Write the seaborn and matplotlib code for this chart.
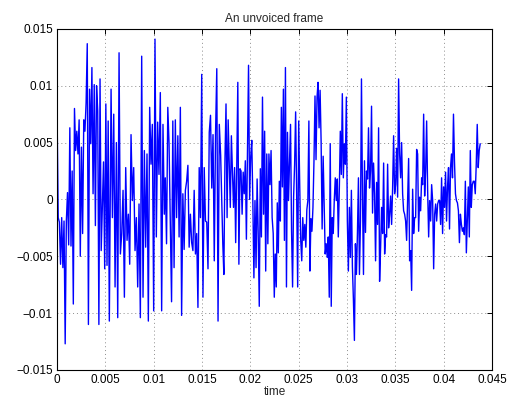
import matplotlib
matplotlib.use("Agg")
import matplotlib.pyplot as plt
import matplotlib.ticker as mticker
import seaborn as sns
import numpy as np

# signal values, in units of 1e-3, one list per stretch of time
seg1 = [7.7, -1.6, -2.0, -5.7, -1.6, -6.0, -1.9, -12.7, -1.9, 0.6, -4.0, 6.3, -4.1, 2.5, -9.2,
        8.0, 4.3, 6.0, 4.0, 7.0, -5.0, 4.6, -3.0, 7.0, 6.0, 8.5, 13.7, -11.0, 9.7, 4.9, 11.6,
        0.5, 10.1, -2.3, 10.0, 7.8, -11.0, 10.6, -4.5, -0.7, 3.3, -6.1, 8.4, -5.8, 6.9, -10.7]
seg2 = [9.7, -1.6, 7.5, -7.7, 5.0, -10.4, 12.9, -4.8, -3.0, 0.8, -8.6, 2.8, -3.6, -1.3, -5.7,
        5.7, -0.1, 2.8, -4.5, -1.6, -7.7, -0.4, -10.4, 12.6, -8.6, 4.3, -4.2, 4.0, -10.7, 8.1,
        3.1, 6.6, -9.8, 14.1, -3.3, 6.8, 2.2, 9.4, -9.8, 6.6, -1.3]
seg3 = [1.9, -3.9, 8.1, 4.9, -2.3, -9.0, 6.9, -6.0, 7.0, -1.6, 5.6, -3.3, 8.1, -10.2, 0.5,
        -4.4, 0.8, 1.6, 3.0, -4.2, -1.3, -3.8, -4.5, 0.8, -4.8, -3.0, -9.5, 2.8, -1.6, 11.0,
        -8.6, 2.8, -1.9, -2.0, -6.1, 5.9, 7.4, 1.0, 5.7, -5.4, 5.7, 11.5, -10.7, 6.6]
seg4 = [3.9, -0.1, -3.9, -6.6, 3.4, 8.4, -1.6, 7.0, 3.1, -0.7, 5.6, 2.5, -0.7, 2.8, -3.8,
        2.8, 10.3, -5.7, 2.7, 2.5, -1.3, 2.4, 0.5, 3.4, -3.5, 4.3, 11.8, 0.0, 3.7, 5.2, -0.1,
        -6.9, -0.1, -6.0, 1.8, -3.0, -9.4, 2.7, -3.3, 9.0, -1.3, 6.0, -6.3, 4.0, -3.9, 4.0,
        1.3, 4.3, -1.6, -3.0, -8.6]
seg5 = [-4.8, -7.7, -0.3, -4.7, 1.6, -1.9, 8.1, 1.1, 9.7, -3.6, 11.6, -7.7, 5.9, -0.1, 3.4,
        6.6, -2.8, -7.7, 0.2, 3.1, 7.7, 0.5, -7.7, 6.9, 1.3, -3.6, -5.4, -1.6, -3.6, -2.2,
        -4.2, -0.9, -0.1, 6.9, -6.3, -1.7, -2.8, -0.7, 3.4, 9.1, 3.5, 9.0, 10.3, 6.3, 9.6,
        5.1, -2.6, 3.8, -0.3, -4.8, -3.9, -5.1, -3.3, -8.6]
seg6 = [4.9, -9.4, -1.6, -3.0, -0.1, 1.9, -0.1, 1.8, -3.3, 0.8, 6.0, 2.2, 9.3, 1.9, 4.9,
        3.1, 9.0, -1.9, -6.3, -0.7, -5.1, 0.8, -5.9, -8.8, -12.4, -3.9, -6.6, -3.0, 1.9,
        -6.6, -1.9, 10.6, 0.4, -6.6, 3.4, -2.9, 2.5, 1.8, 6.3, 1.0, 2.5, 8.2, -1.2, 3.2, 0.5,
        -5.4, 1.5, -2.2, 6.3, -7.2, -4.2, -0.7, -3.0, 3.2, -4.8]
seg7 = [-3.1, -3.3, 3.1, -2.5, -1.3, 0.3, -2.2, 1.0, 5.6, 0.5, 1.3, 4.5, 0.2, 10.6, 4.0,
        1.9, 5.0, 0.5, -1.0, -1.3, -1.9, -3.6, -0.1, 3.6, -5.4, -4.5, -8.0, 0.9, -3.0, -1.6,
        -1.6, 4.4, 4.0, -2.8, 0.2, -1.0, 1.9, 1.3, 7.5, 0.3, 2.5, 6.9, 0.8, -3.3, -0.1, -1.9,
        1.3, -0.1, -6.1, -1.3, -0.4, -1.9, -0.4, -0.1]
seg8 = [-0.1, -2.2, 1.9, -3.0, 1.1, -0.7, 2.4, -1.9, 1.1, 2.8, -2.6, 2.8, 4.0, 1.9, 7.5,
        3.4, 0.5, -0.1, -0.3, -1.0, -3.8, -1.3, -2.2, -2.8, -2.5, -3.1, 1.6, -4.7, -1.9, 1.1,
        -3.3, 4.3, -0.7, 1.3, 1.6, 1.6, 0.5, 3.1, 6.6, 2.8, 4.3, 4.9]

segments = [seg1, seg2, seg3, seg4, seg5, seg6, seg7, seg8]
# start / end time (s) of each stretch
seg_start = [0.0, 0.00559, 0.0112, 0.01693, 0.02258, 0.02827, 0.0340, 0.03959]
seg_end = [0.00541, 0.0111, 0.01679, 0.02248, 0.02817, 0.0339, 0.03949, 0.04379]

time = np.concatenate([np.linspace(a, b, len(s)) for a, b, s in zip(seg_start, seg_end, segments)])
amp = np.concatenate([np.array(s) for s in segments]) * 1e-3

xticks = [0, 0.005, 0.01, 0.015, 0.02, 0.025, 0.03, 0.035, 0.04, 0.045]
yticks = [-0.015, -0.01, -0.005, 0, 0.005, 0.01, 0.015]

sns.set_theme(style="white")
plt.rcParams['font.family'] = ['Liberation Sans', 'DejaVu Sans']
plt.rcParams['axes.unicode_minus'] = True

fig = plt.figure(figsize=(5.14, 4.07), dpi=100)
ax = fig.add_axes([0.111, 0.091, 0.846, 0.838])

sns.lineplot(x=time, y=amp, color=(0, 0, 1), linewidth=1.0, estimator=None, sort=False, ax=ax)

ax.set_xlim(0, 0.045)
ax.set_ylim(-0.015, 0.015)
ax.set_xticks(xticks)
ax.set_yticks(yticks)
fmt = mticker.FuncFormatter(lambda v, p: ("%g" % v).replace("-", "\u2212"))
ax.xaxis.set_major_formatter(fmt)
ax.yaxis.set_major_formatter(fmt)
ax.grid(True, linestyle=(0, (1, 3)), color="0.55", linewidth=0.7)
ax.tick_params(direction="in", top=True, right=True, length=3.5, width=0.7,
               labelsize=8.5, colors="black", pad=3)
for sp in ax.spines.values():
    sp.set_color("black")
    sp.set_linewidth(0.8)

ax.set_title("An unvoiced frame", fontsize=8.5, pad=5)
ax.set_xlabel("time", fontsize=8.5, labelpad=0)
ax.set_ylabel("")

fig.savefig("out.png", dpi=100)
